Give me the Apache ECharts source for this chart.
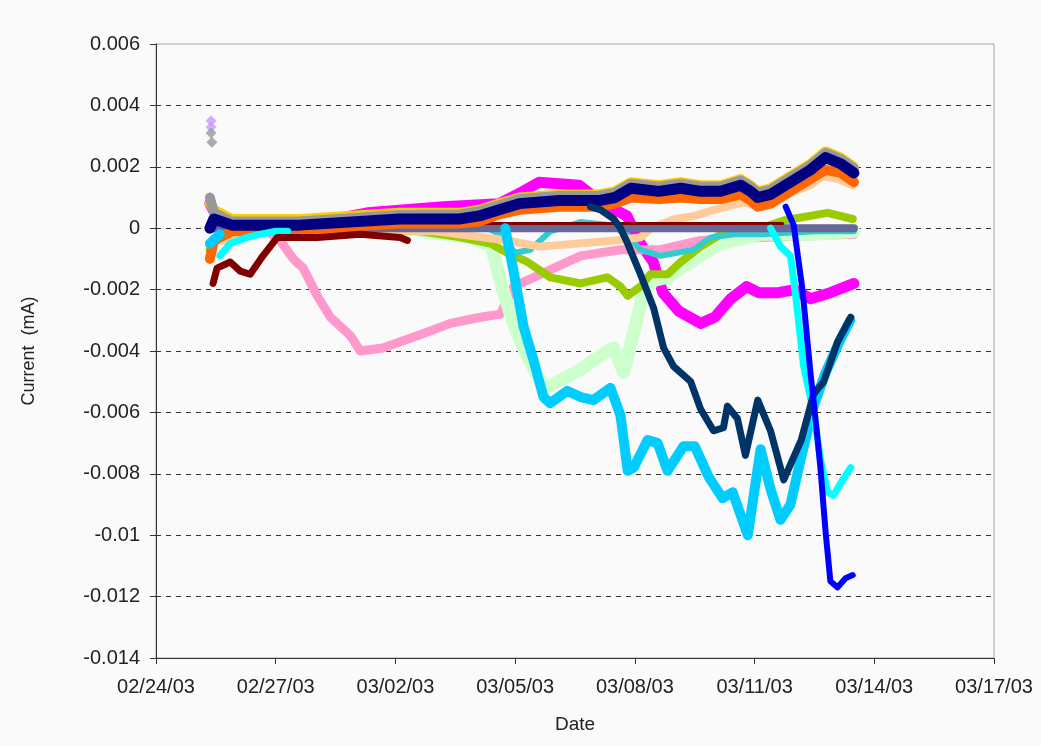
<!DOCTYPE html>
<html>
<head>
<meta charset="utf-8">
<script src="https://cdn.jsdelivr.net/npm/echarts@6/dist/echarts.min.js"></script>
<style>
html,body{margin:0;padding:0;background:#fafafa;}
#chart{width:1041px;height:746px;}
</style>
</head>
<body>
<div id="chart"></div>
<script>
// ---- tick labels ----
const xTickLabels = ['02/24/03','02/27/03','03/02/03','03/05/03','03/08/03','03/11/03','03/14/03','03/17/03'];
// x values are days since 02/24/03

// ---- top band (navy / grey / yellow / orange share sample days) ----
const bandDays   = [1.35, 1.45, 1.9, 3.6, 6.1, 7.6, 8.1, 8.6, 9.1, 10.1, 11.1, 11.5, 11.9, 12.6, 13.15, 13.65, 14.15, 14.65, 14.9, 15.08, 15.4, 15.9, 16.4, 16.78, 17.16, 17.49];
const navyVals   = [0.0, 0.0003, 0.0001, 0.0001, 0.0003, 0.0003, 0.0004, 0.0006, 0.0008, 0.0009, 0.0009, 0.0010, 0.0013, 0.0012, 0.0013, 0.0012, 0.0012, 0.0014, 0.0012, 0.0010, 0.0011, 0.0015, 0.0019, 0.0023, 0.0021, 0.0018];
const greyVals   = [0.0010, 0.0005, 0.00022, 0.00022, 0.00043, 0.00045, 0.00055, 0.00075, 0.00095, 0.00105, 0.00105, 0.00115, 0.00145, 0.00135, 0.00145, 0.00135, 0.00135, 0.00155, 0.00135, 0.00115, 0.00125, 0.00165, 0.00205, 0.00245, 0.00225, 0.00195];
const yellowVals = [0.0008, 0.0006, 0.0003, 0.0003, 0.0005, 0.0005, 0.0006, 0.0008, 0.0010, 0.0011, 0.0011, 0.0012, 0.0015, 0.0014, 0.0015, 0.0014, 0.0014, 0.0016, 0.0014, 0.0012, 0.0013, 0.0017, 0.0021, 0.0025, 0.0023, 0.0020];
const orangeVals = [-0.0010, -0.0004, -0.0001, -0.00005, 0.00015, 0.00015, 0.00022, 0.00045, 0.0006, 0.0007, 0.0007, 0.0008, 0.0010, 0.00095, 0.0010, 0.00095, 0.00095, 0.0011, 0.0009, 0.0007, 0.0008, 0.0012, 0.0016, 0.0019, 0.0018, 0.0015];

const peachDays = [1.35, 3, 7, 8.8, 9.6, 10.6, 11.5, 12.14, 12.4, 13.0, 13.5, 14.0, 14.73, 15.08, 15.5, 16.0, 16.4, 16.7, 17.1, 17.46];
const peachVals = [-0.0005, 0.0, -0.0001, -0.0004, -0.0006, -0.0005, -0.0004, -0.0003, 0.0, 0.0003, 0.0004, 0.0006, 0.00085, 0.0007, 0.0009, 0.0012, 0.0014, 0.0017, 0.0016, 0.0014];

const magentaDays = [1.35, 1.6, 3, 4.5, 5.3, 7.2, 8.6, 9.2, 9.6, 10.6, 11.2, 11.8, 12.14, 12.46, 12.7, 13.1, 13.65, 14.0, 14.4, 14.8, 15.1, 15.6, 16.0, 16.4, 16.9, 17.49];
const magentaVals = [0.0008, 0.0002, 0.0001, 0.0003, 0.0005, 0.0007, 0.0008, 0.0012, 0.0015, 0.0014, 0.0008, 0.0004, -0.0005, -0.0011, -0.0021, -0.0027, -0.0031, -0.0029, -0.0023, -0.0019, -0.0021, -0.0021, -0.0020, -0.0023, -0.0021, -0.0018];

const pinkDays = [2.68, 3.11, 3.44, 3.69, 4.04, 4.37, 4.87, 5.12, 5.69, 6.12, 6.55, 7.38, 8.13, 8.63, 8.96, 9.81, 10.64, 11.64, 12.64, 13.65, 15.15, 17.49];
const pinkVals = [0.0, -0.0004, -0.0010, -0.0013, -0.0022, -0.0029, -0.0035, -0.0040, -0.0039, -0.0037, -0.0035, -0.0031, -0.0029, -0.0028, -0.0019, -0.0014, -0.0009, -0.0007, -0.0007, -0.0004, -0.0003, -0.0002];

const darkRedDays = [1.43, 1.53, 1.86, 2.11, 2.36, 2.68, 2.86, 3.04, 4.04, 5.12, 6.12, 6.3];
const darkRedVals = [-0.0018, -0.0013, -0.0011, -0.0014, -0.0015, -0.0009, -0.0006, -0.0003, -0.0003, -0.0002, -0.0003, -0.0004];
const darkRedLateDays = [7.5, 15.7];
const darkRedLateVals = [0.00015, 0.00015];

const cyanDays = [1.6, 1.86, 2.28, 2.6, 3.0, 3.3, null, 15.4, 15.65, 15.9, 16.03, 16.23, 16.48, 16.66, 16.83, 16.98, 17.16, 17.41];
const cyanVals = [-0.0009, -0.0005, -0.0003, -0.0002, -0.0001, -0.0001, null, 0.0, -0.0006, -0.0009, -0.0022, -0.0045, -0.0060, -0.0076, -0.0086, -0.0087, -0.0083, -0.0078];

const tealDays = [8.3, 8.63, 9.0, 9.38, 9.88, 10.64, 11.39, 11.8, 12.14, 12.64, 13.47, 13.9, 14.48, 15.2, 16.5, 17.49];
const tealVals = [0.0, -0.0002, -0.0008, -0.0007, -0.0001, 0.0002, 0.0001, -0.0002, -0.0007, -0.0009, -0.0007, -0.0003, -0.0002, -0.0002, -0.0001, -0.0001];

const skyDays = [1.35, 1.6, null, 8.75, 8.96, 9.21, 9.46, 9.71, 9.88, 10.31, 10.64, 10.96, 11.39, 11.64, 11.82, 11.97, 12.32, 12.57, 12.82, 13.22, 13.5, 13.85, 14.2, 14.45, 14.83, 15.15, 15.4, 15.65, 15.9, 16.16, 16.48, 16.78, 17.16, 17.4];
const skyVals = [-0.0005, -0.0002, null, 0.0, -0.0014, -0.0032, -0.0043, -0.0055, -0.0057, -0.0053, -0.0055, -0.0056, -0.0052, -0.0061, -0.0079, -0.0078, -0.0069, -0.0070, -0.0079, -0.0071, -0.0071, -0.0081, -0.0088, -0.0086, -0.0100, -0.0072, -0.0085, -0.0095, -0.0090, -0.0075, -0.0058, -0.0047, -0.0036, -0.0030];

const darkTealDays = [10.89, 11.14, 11.47, 11.64, 11.82, 12.14, 12.47, 12.72, 12.97, 13.4, 13.65, 13.97, 14.22, 14.32, 14.57, 14.77, 15.08, 15.4, 15.73, 16.17, 16.48, 16.73, 17.08, 17.41];
const darkTealVals = [0.0007, 0.0006, 0.0003, 0.0, -0.0005, -0.0015, -0.0026, -0.0039, -0.0045, -0.0050, -0.0059, -0.0066, -0.0065, -0.0058, -0.0062, -0.0074, -0.0056, -0.0066, -0.0082, -0.0069, -0.0054, -0.0050, -0.0037, -0.0029];

const blueDays = [15.78, 15.98, 16.2, 16.4, 16.55, 16.65, 16.78, 16.9, 17.08, 17.28, 17.46];
const blueVals = [0.0007, 0.0001, -0.0020, -0.0047, -0.0065, -0.0078, -0.0099, -0.0115, -0.0117, -0.0114, -0.0113];

const lightGreenDays = [6.62, 7.88, 8.4, 8.65, 8.9, 9.2, 9.55, 9.8, 10.21, 10.64, 11.31, 11.47, 11.72, 11.97, 12.22, 12.47, 12.82, 13.15, 13.65, 14.15, 15.15, 16.5, 17.49];
const lightGreenVals = [-0.0001, -0.0003, -0.0006, -0.0018, -0.0029, -0.0039, -0.0048, -0.0052, -0.0049, -0.0046, -0.0040, -0.0039, -0.0047, -0.0034, -0.0021, -0.0017, -0.0016, -0.0013, -0.0009, -0.0005, -0.0002, -0.0002, -0.0001];

const yellowGreenDays = [1.35, 1.7, 6.62, 7.63, 8.38, 8.8, 9.31, 9.88, 10.64, 11.31, 11.64, 11.82, 12.14, 12.39, 12.82, 13.15, 13.65, 14.15, 15.15, 15.73, 16.83, 17.46];
const yellowGreenVals = [-0.0007, 0.0, -0.0001, -0.0003, -0.0005, -0.0008, -0.0011, -0.0016, -0.0018, -0.0016, -0.0019, -0.0022, -0.0019, -0.0015, -0.0015, -0.0011, -0.0006, -0.0002, 0.0, 0.00025, 0.0005, 0.0003];

const slateDays = [1.35, 17.49];
const slateVals = [0.0, 0.0];

const lavenderDays = [1.38, 1.38];
const lavenderVals = [0.0035, 0.0033];
const greyPtDays = [1.38, 1.4];
const greyPtVals = [0.0031, 0.0028];

function pairs(xs, ys) {
  return xs.map((x, i) => (x === null ? null : [x, ys[i]]));
}
function line(name, xs, ys, color, width) {
  return {
    name: name, type: 'line', data: pairs(xs, ys), showSymbol: false, symbol: 'none',
    connectNulls: false, animation: false,
    lineStyle: { color: color, width: width, cap: 'round', join: 'round' },
    itemStyle: { color: color }
  };
}
function pts(name, xs, ys, color) {
  return {
    name: name, type: 'scatter', data: pairs(xs, ys), symbol: 'diamond', symbolSize: 11,
    itemStyle: { color: color }, animation: false
  };
}

const splitColors = ['rgba(0,0,0,0)','#333','#333','#333','#333','#333','#333','#333','#333','#333','rgba(0,0,0,0)'];

const chart = echarts.init(document.getElementById('chart'), null, { renderer: 'canvas' });
chart.setOption({
  backgroundColor: '#fafafa',
  animation: false,
  grid: { left: 156, right: 47, top: 44, bottom: 88, show: true, borderColor: '#a6a6a6', borderWidth: 1, backgroundColor: 'rgba(0,0,0,0)' },
  xAxis: {
    type: 'value', min: 0, max: 21, interval: 3,
    name: 'Date', nameLocation: 'middle', nameGap: 57,
    nameTextStyle: { fontFamily: 'Liberation Sans', fontSize: 19, color: '#222' },
    axisLine: { show: true, onZero: false, lineStyle: { color: '#333', width: 1 } },
    axisTick: { show: true, inside: false, length: 6, lineStyle: { color: '#333' } },
    axisLabel: { margin: 19, fontFamily: 'Liberation Sans', fontSize: 20, color: '#222',
      formatter: v => xTickLabels[Math.round(v / 3)] || '' },
    splitLine: { show: false }
  },
  yAxis: {
    type: 'value', min: -0.014, max: 0.006, interval: 0.002,
    name: 'Current  (mA)', nameLocation: 'middle', nameGap: 118, nameRotate: 90,
    nameTextStyle: { fontFamily: 'Liberation Sans', fontSize: 18, color: '#222' },
    axisLine: { show: true, lineStyle: { color: '#333', width: 1 } },
    axisTick: { show: true, inside: false, length: 6, lineStyle: { color: '#333' } },
    axisLabel: { margin: 16, fontFamily: 'Liberation Sans', fontSize: 20, color: '#222',
      formatter: v => String(parseFloat(v.toFixed(4))) },
    splitLine: { show: true, lineStyle: { color: splitColors, type: [5, 5], width: 1 } }
  },
  series: [
    line('magenta', magentaDays, magentaVals, '#FF00FF', 11),
    line('pink', pinkDays, pinkVals, '#FF99CC', 9),
    line('lightGreen', lightGreenDays, lightGreenVals, '#CCFFCC', 13),
    line('yellowGreen', yellowGreenDays, yellowGreenVals, '#99CC00', 8),
    line('teal', tealDays, tealVals, '#33CCCC', 6),
    line('peach', peachDays, peachVals, '#FFCC99', 8),
    line('slate', slateDays, slateVals, '#666699', 8),
    line('darkRedLate', darkRedLateDays, darkRedLateVals, '#800000', 3),
    line('yellow', bandDays, yellowVals, '#FFCC00', 10),
    line('grey', bandDays, greyVals, '#999999', 10),
    line('orange', bandDays, orangeVals, '#FF6600', 10),
    line('navy', bandDays, navyVals, '#000080', 11),
    line('sky', skyDays, skyVals, '#00CCFF', 10),
    line('cyan', cyanDays, cyanVals, '#00FFFF', 7),
    line('darkRed', darkRedDays, darkRedVals, '#800000', 7),
    line('darkTeal', darkTealDays, darkTealVals, '#003366', 7),
    line('blue', blueDays, blueVals, '#0000FF', 6),
    pts('lavender', lavenderDays, lavenderVals, '#CC99FF'),
    pts('greyPts', greyPtDays, greyPtVals, '#999999')
  ]
});
</script>
</body>
</html>
